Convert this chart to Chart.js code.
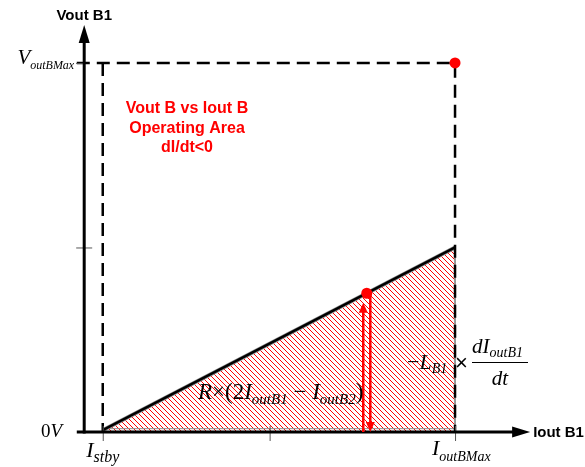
<!DOCTYPE html>
<html>
<head>
<meta charset="utf-8">
<script src="https://cdn.jsdelivr.net/npm/chart.js@4.4.0/dist/chart.umd.min.js"></script>
<style>
body { margin: 0; background: #fff; }
</style>
</head>
<body>
<canvas id="area" width="585" height="467"></canvas>
<script>
// currents on x, voltages on y (plot units)
const standbyCurrent = 1
const midCurrent = 10
const maxCurrent = 20
const rampTopVoltage = 5
const maxVoltage = 10

const rampX = [standbyCurrent, maxCurrent]
const rampY = [0.05, rampTopVoltage]
const edgeX = [maxCurrent, maxCurrent, standbyCurrent]
const edgeY = [rampTopVoltage, 0.09, 0.09]
const limitX = [-0.4, maxCurrent, maxCurrent]
const limitY = [maxVoltage, maxVoltage, 0]
const standbyX = [standbyCurrent, standbyCurrent]
const standbyY = [maxVoltage, 0]
const dotX = [maxCurrent, 15.24]
const dotY = [maxVoltage, 3.76]
const arrowX = [15.05, 15.43]
const arrowFrom = [0, 3.72]
const arrowTo = [3.5, 0]
const xTicks = [standbyCurrent, midCurrent, maxCurrent]
const yTicks = [rampTopVoltage, maxVoltage]
const xAxisEnds = [-0.4, 24.05]
const yAxisEnds = [-0.05, 11.03]
const areaText = ["Vout B vs Iout B", "Operating Area", "dI/dt<0"]

const SERIF = "'Liberation Serif', 'Times New Roman', serif"
const SANS = "'Liberation Sans', Arial, sans-serif"
const it = (s) => `italic ${s}px ${SERIF}`
const rm = (s) => `${s}px ${SERIF}`

function pts(xs, ys){
    return xs.map((x, i) => ({x: x, y: ys[i]}))
}

function hatch(color, step){
    const c = document.createElement("canvas")
    c.width = step
    c.height = step
    const g = c.getContext("2d")
    g.strokeStyle = color
    g.lineWidth = 1
    g.beginPath()
    for (let k = -1; k <= 1; k++){
        g.moveTo(k * step, 0)
        g.lineTo(k * step + step, step)
    }
    g.stroke()
    return g.createPattern(c, "repeat")
}

// draws a row of text pieces [text, font, dy] one after another
function runs(ctx, parts, x, y, align){
    let w = 0
    for (const p of parts){ ctx.font = p[1]; w += ctx.measureText(p[0]).width }
    let cx = align == "right" ? x - w : align == "center" ? x - w / 2 : x
    for (const p of parts){
        ctx.font = p[1]
        ctx.fillText(p[0], cx, y + (p[2] || 0))
        cx += ctx.measureText(p[0]).width
    }
}

function head(ctx, x, y, dx, dy, len, half){
    ctx.beginPath()
    ctx.moveTo(x, y)
    ctx.lineTo(x - dx * len - dy * half, y - dy * len + dx * half)
    ctx.lineTo(x - dx * len + dy * half, y - dy * len - dx * half)
    ctx.closePath()
    ctx.fill()
}

const overlay = {
    id: "overlay",
    afterDatasetsDraw(chart){
        const ctx = chart.ctx
        const sx = chart.scales.x, sy = chart.scales.y
        const X = (v) => sx.getPixelForValue(v)
        const Y = (v) => sy.getPixelForValue(v)
        ctx.save()

        // thin tick marks
        ctx.strokeStyle = "#555"
        ctx.lineWidth = 1
        ctx.beginPath()
        for (const t of xTicks){ ctx.moveTo(X(t) + 0.5, Y(0) - 6); ctx.lineTo(X(t) + 0.5, Y(0) + 9) }
        ctx.moveTo(X(0) - 8, Y(yTicks[0]) + 0.5); ctx.lineTo(X(0) + 8, Y(yTicks[0]) + 0.5)
        ctx.moveTo(X(0) - 8, Y(yTicks[1]) + 0.5); ctx.lineTo(X(0), Y(yTicks[1]) + 0.5)
        ctx.stroke()

        // axes with arrow heads
        ctx.strokeStyle = "#000"
        ctx.fillStyle = "#000"
        ctx.lineWidth = 3
        ctx.beginPath()
        ctx.moveTo(X(xAxisEnds[0]), Y(0))
        ctx.lineTo(X(xAxisEnds[1]) - 15, Y(0))
        ctx.moveTo(X(0), Y(yAxisEnds[0]))
        ctx.lineTo(X(0), Y(yAxisEnds[1]) + 15)
        ctx.stroke()
        head(ctx, X(xAxisEnds[1]), Y(0), 1, 0, 18, 5.5)
        head(ctx, X(0), Y(yAxisEnds[1]), 0, -1, 18, 5.5)

        // red arrows under the operating point
        ctx.strokeStyle = "#ff0000"
        ctx.fillStyle = "#ff0000"
        ctx.lineWidth = 2.5
        for (let i = 0; i < arrowX.length; i++){
            const x = X(arrowX[i]), y0 = Y(arrowFrom[i]), y1 = Y(arrowTo[i])
            const d = y1 < y0 ? -1 : 1
            ctx.beginPath()
            ctx.moveTo(x, y0)
            ctx.lineTo(x, y1 - d * 8)
            ctx.stroke()
            head(ctx, x, y1, 0, d, 10, 4.5)
        }

        // axis titles
        ctx.fillStyle = "#000"
        ctx.textAlign = "left"
        ctx.textBaseline = "alphabetic"
        runs(ctx, [["Vout B1", `bold 15px ${SANS}`]], X(0), 20, "center")
        runs(ctx, [["Iout B1", `bold 15px ${SANS}`]], X(xAxisEnds[1]) + 3, Y(0) + 5, "left")

        // tick labels
        runs(ctx, [["V", it(21)], ["outBMax", it(12), 5]], X(0) - 10, Y(maxVoltage) + 1, "right")
        runs(ctx, [["0", rm(19)], ["V", it(19)]], X(0) - 22, Y(0) + 5, "right")
        runs(ctx, [["I", it(22)], ["stby", it(16), 5]], X(standbyCurrent), Y(0) + 25, "center")
        runs(ctx, [["I", it(22)], ["outBMax", it(14), 6]], X(maxCurrent) - 23, Y(0) + 23, "left")

        // formulas
        runs(ctx, [["R", it(23)], ["\u00d7", rm(23)], ["(2", rm(23)], ["I", it(23)], ["outB1", it(15), 5],
            [" \u2212 ", rm(23)], ["I", it(23)], ["outB2", it(15), 5], [")", rm(23)]], 198, 399, "left")
        runs(ctx, [["\u2212", rm(22)], ["L", it(22)], ["B1", it(14), 4]], 407, 369, "left")
        runs(ctx, [["\u00d7", `22px ${SANS}`]], 455, 370, "left")
        runs(ctx, [["d", it(21)], ["I", it(21)], ["outB1", it(14), 4]], 472, 353, "left")
        ctx.lineWidth = 1
        ctx.strokeStyle = "#000"
        ctx.beginPath()
        ctx.moveTo(472, 362.5)
        ctx.lineTo(528, 362.5)
        ctx.stroke()
        runs(ctx, [["dt", it(21)]], 500, 385, "center")

        // operating area note
        ctx.fillStyle = "#ff0000"
        areaText.forEach((t, i) => runs(ctx, [[t, `bold 16px ${SANS}`]], 187, 113 + i * 19.5, "center"))

        ctx.restore()
    }
}

const ctx = document.querySelector("#area").getContext("2d")

new Chart(ctx, {
    type: "line",
    data: {
        datasets: [
            {
                data: pts(dotX, dotY),
                showLine: false,
                pointRadius: 5.5,
                pointBackgroundColor: "#ff0000",
                pointBorderWidth: 0,
                order: 1
            },
            {
                data: pts(rampX, rampY),
                borderColor: "#000",
                borderWidth: 2.5,
                pointRadius: 0,
                fill: false,
                order: 2
            },
            {
                data: pts(limitX, limitY),
                borderColor: "#000",
                borderWidth: 2.5,
                borderDash: [13, 7],
                pointRadius: 0,
                fill: false,
                clip: false,
                order: 3
            },
            {
                data: pts(standbyX, standbyY),
                borderColor: "#000",
                borderWidth: 2.5,
                borderDash: [13, 7],
                pointRadius: 0,
                fill: false,
                order: 3
            },
            {
                data: pts(edgeX, edgeY),
                borderColor: "#8c8c8c",
                borderWidth: 1,
                pointRadius: 0,
                fill: false,
                order: 4
            },
            {
                data: pts(rampX, rampY),
                borderColor: "#8c8c8c",
                borderWidth: 4,
                backgroundColor: hatch("#ff0000", 5),
                pointRadius: 0,
                fill: "origin",
                order: 5
            }
        ]
    },
    options: {
        responsive: false,
        animation: false,
        events: [],
        layout: { padding: { left: 84.2, right: 55.8, top: 11.3, bottom: 35 } },
        plugins: { legend: { display: false }, tooltip: { enabled: false } },
        scales: {
            x: { type: "linear", min: 0, max: 24, display: false },
            y: { type: "linear", min: 0, max: 11.4, display: false }
        }
    },
    plugins: [overlay]
})
</script>
</body>
</html>
